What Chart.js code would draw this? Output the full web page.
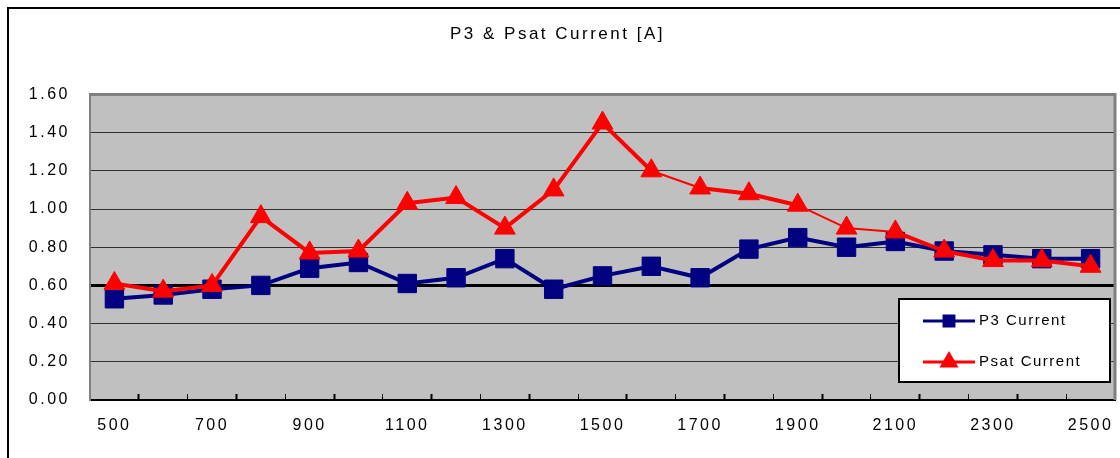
<!DOCTYPE html>
<html lang="en">
  <head>
    <meta charset="UTF-8" />
    <title>P3 & Psat Current</title>
    <script src="https://cdn.jsdelivr.net/npm/chart.js"></script>
    <style>
      body {
        margin: 0;
        background-color: #ffffff;
        overflow: hidden;
      }

      .chart-box {
        width: 1120px;
        height: 458px;
      }

      canvas {
        display: block;
      }
    </style>
  </head>
  <body>
    <div class="chart-box">
      <canvas id="lineChart" width="1120" height="458"></canvas>
    </div>

    <script>
      const categories = [
        "500", "600", "700", "800", "900", "1000", "1100", "1200", "1300", "1400", "1500",
        "1600", "1700", "1800", "1900", "2000", "2100", "2200", "2300", "2400", "2500",
      ];
      const p3Current = [
        0.53, 0.55, 0.58, 0.6, 0.69, 0.72, 0.61, 0.64, 0.74, 0.58, 0.65,
        0.7, 0.64, 0.79, 0.85, 0.8, 0.83, 0.78, 0.76, 0.74, 0.74,
      ];
      const psatCurrent = [
        0.61, 0.57, 0.6, 0.96, 0.77, 0.78, 1.03, 1.06, 0.9, 1.1, 1.45,
        1.2, 1.11, 1.08, 1.02, 0.9, 0.88, 0.78, 0.73, 0.73, 0.7,
      ];
      const seriesNames = ["P3 Current", "Psat Current"];
      const yTicks = [0, 0.2, 0.4, 0.6, 0.8, 1.0, 1.2, 1.4, 1.6];

      const NAVY = "#000080";
      const RED = "#ff0000";
      const FONT = "'Liberation Sans', Arial, sans-serif";

      // thin segments of the red line (start index), like the original export
      const thinPsat = [11, 14, 15];

      // excel-ish frame: outer border, grey plot area, plot border
      const frame = {
        id: "frame",
        beforeUpdate(chart) {
          chart.ctx.letterSpacing = "2.5px";
        },
        beforeDraw(chart) {
          const { ctx, chartArea: a } = chart;
          ctx.letterSpacing = "2.5px";
          ctx.save();
          ctx.fillStyle = "#ffffff";
          ctx.fillRect(0, 0, chart.width, chart.height);
          ctx.strokeStyle = "#000";
          ctx.lineWidth = 2;
          ctx.strokeRect(8, 8, chart.width + 20, chart.height + 20);
          ctx.fillStyle = "#c0c0c0";
          ctx.fillRect(a.left, a.top, a.right - a.left, a.bottom - a.top);
          ctx.restore();
        },
        beforeDatasetsDraw(chart) {
          const { ctx, chartArea: a } = chart;
          ctx.save();
          ctx.strokeStyle = "#808080";
          ctx.lineWidth = 3;
          ctx.beginPath();
          ctx.moveTo(a.left, a.top);
          ctx.lineTo(a.right, a.top);
          ctx.lineTo(a.right, a.bottom);
          ctx.stroke();
          ctx.restore();
        },
        afterDraw(chart) {
          const ctx = chart.ctx;
          const x = 899, y = 299, w = 211, h = 83;
          ctx.save();
          ctx.fillStyle = "#ffffff";
          ctx.fillRect(x, y, w, h);
          ctx.strokeStyle = "#000";
          ctx.lineWidth = 2;
          ctx.strokeRect(x, y, w, h);
          const items = [
            { color: NAVY, style: "rect", r: 7, y: 321 },
            { color: RED, style: "triangle", r: 8, y: 362 },
          ];
          items.forEach((it, i) => {
            ctx.strokeStyle = it.color;
            ctx.lineWidth = 3;
            ctx.beginPath();
            ctx.moveTo(923, it.y);
            ctx.lineTo(975, it.y);
            ctx.stroke();
            ctx.fillStyle = it.color;
            Chart.helpers.drawPoint(ctx, { pointStyle: it.style, radius: it.r, borderWidth: 1 }, 949, it.y);
            ctx.fillStyle = "#000";
            ctx.font = "15px " + FONT;
            ctx.letterSpacing = "1.5px";
            ctx.textBaseline = "middle";
            ctx.textAlign = "left";
            ctx.fillText(seriesNames[i], 979, it.y);
          });
          ctx.restore();
        },
      };

      const ctx = document.getElementById("lineChart");
      const lineChart = new Chart(ctx, {
        type: "line",
        data: {
          labels: categories,
          datasets: [
            {
              label: seriesNames[0],
              data: p3Current,
              borderColor: NAVY,
              backgroundColor: NAVY,
              borderWidth: 4,
              pointStyle: "rect",
              pointRadius: 13,
              pointBorderWidth: 1,
              order: 1,
            },
            {
              label: seriesNames[1],
              data: psatCurrent,
              borderColor: RED,
              backgroundColor: RED,
              borderWidth: 4,
              pointStyle: "triangle",
              pointRadius: 12,
              pointBorderWidth: 1,
              order: 0,
              segment: {
                borderWidth: (c) => (thinPsat.includes(c.p0DataIndex) ? 2 : 4),
              },
            },
          ],
        },
        options: {
          responsive: false,
          animation: false,
          layout: { autoPadding: false, padding: { left: 0, right: 5, top: 0, bottom: 0 } },
          plugins: {
            legend: { display: false },
            tooltip: { enabled: false },
            title: {
              display: true,
              text: "P3 & Psat Current [A]",
              color: "#000",
              font: { family: FONT, size: 17, weight: "normal" },
              padding: { top: 24, bottom: 50 },
            },
          },
          scales: {
            x: {
              offset: true,
              grid: {
                offset: true,
                drawOnChartArea: false,
                drawTicks: true,
                tickLength: -6,
                tickColor: "#000",
                tickWidth: (c) => (c.index % 2 ? 2 : 1),
              },
              border: { display: true, color: "#000", width: 2 },
              ticks: {
                autoSkip: false,
                maxRotation: 0,
                padding: 22,
                color: "#000",
                font: { family: FONT, size: 16 },
                callback: (v, i) => (i % 2 === 0 ? categories[i] : ""),
              },
              afterFit(scale) {
                scale.height = 58;
                scale.paddingLeft = 0;
                scale.paddingRight = 0;
              },
            },
            y: {
              min: 0,
              max: 1.6,
              afterBuildTicks(scale) {
                scale.ticks = yTicks.map((v) => ({ value: v }));
              },
              grid: {
                drawTicks: false,
                color: (c) => {
                  const v = c.tick ? c.tick.value : 0;
                  if (Math.abs(v - 0.6) < 1e-6) return "#000";
                  if (Math.abs(v - 1.6) < 1e-6) return "#808080";
                  return "#303030";
                },
                lineWidth: (c) => {
                  const v = c.tick ? c.tick.value : 0;
                  if (Math.abs(v - 0.6) < 1e-6) return 3;
                  if (Math.abs(v - 1.6) < 1e-6) return 3;
                  return 1;
                },
              },
              border: { display: true, color: "#808080", width: 2 },
              ticks: {
                padding: 20,
                color: "#000",
                font: { family: FONT, size: 16 },
                callback: (v) => Number(v).toFixed(2),
              },
              afterFit(scale) {
                scale.width = 90;
              },
            },
          },
        },
        plugins: [frame],
      });
    </script>
  </body>
</html>
